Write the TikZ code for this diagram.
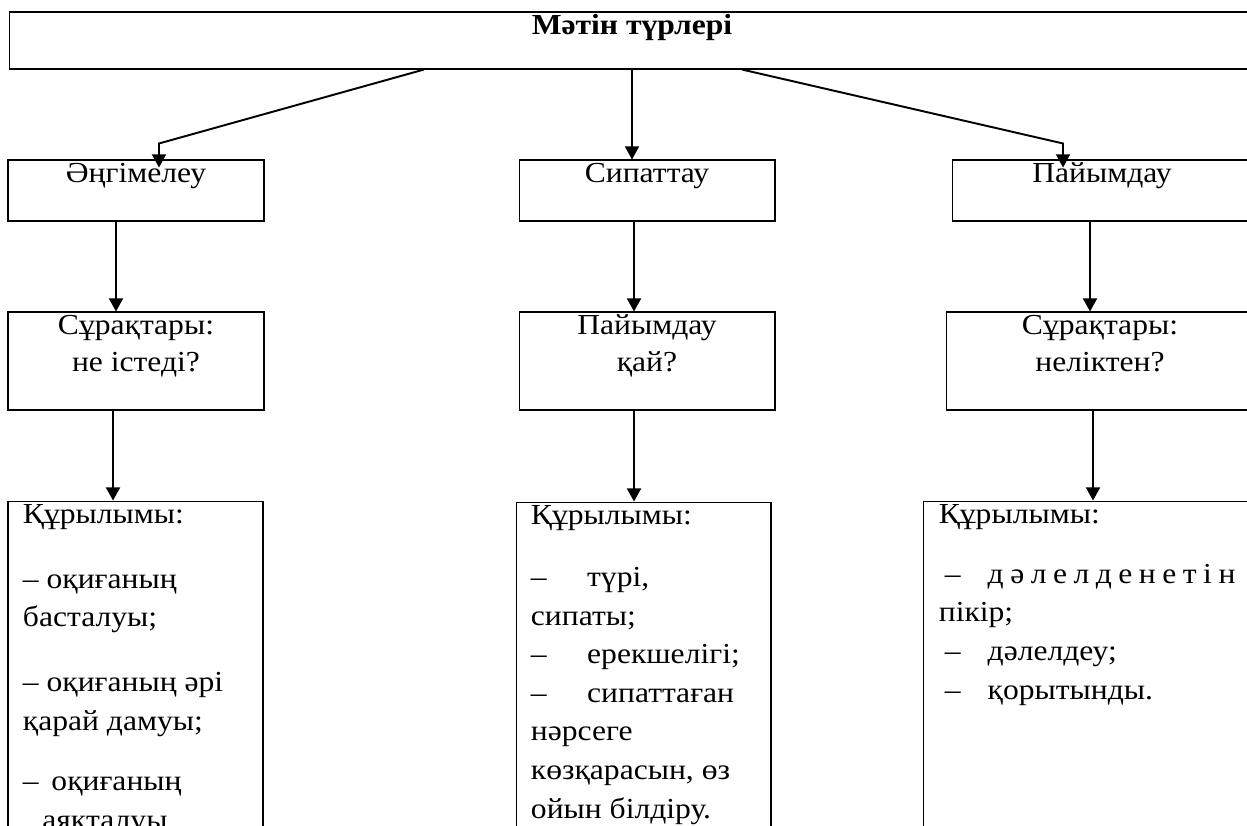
\documentclass[tikz,border=0pt]{standalone}
\usepackage{fontspec}
\setmainfont{Liberation Serif}[FakeStretch=1.09]
\usetikzlibrary{positioning,arrows.meta}
\newcommand{\topline}{\rule{0pt}{12.8pt}}
\newcommand{\dashgap}[1]{\makebox[#1][l]{–}}

\begin{document}
\begin{tikzpicture}[x=0.02cm, y=-0.02cm, line width=0.6pt,
    every node/.style={font=\fontsize{16.5}{21.3}\selectfont},
    box/.style={draw, rectangle, inner sep=0pt, minimum width=5.12cm, minimum height=1.22cm},
    lbl/.style={inner sep=0pt, align=center},
    txt/.style={inner sep=0pt, align=left, font=\fontsize{16.5}{22}\selectfont},
    conn/.style={line width=1.1pt, -{Triangle[length=7.5pt,width=8pt]}}]
  \useasboundingbox (0,0) rectangle (1247,825);
  \clip (0,0) rectangle (1247,825);

  \node[box, minimum width=24.92cm, minimum height=1.14cm] (title) at (632,40.5) {};
  \node[lbl, below=0pt of title.north, font=\fontsize{16.5}{21.3}\selectfont\bfseries] (titletext) {\topline Мәтін түрлері};

  \node[box] (a2) at (136,190.5) {};
  \node[box] (b2) at (647,190.5) {};
  \node[box, minimum width=6cm] (c2) at (1102,190.5) {};
  \node[lbl, below=0pt of a2.north] (a2t) {\topline Әңгімелеу};
  \node[lbl, below=0pt of b2.north] (b2t) {\topline Сипаттау};
  \node[lbl, below=0pt of c2.north] (c2t) {\topline Пайымдау};

  \node[box, minimum height=1.96cm] (a3) at (136,361) {};
  \node[box, minimum height=1.96cm] (b3) at (647,361) {};
  \node[box, minimum height=1.96cm, minimum width=6.16cm] (c3) at (1100,361) {};
  \node[lbl, below=0pt of a3.north] (a3t) {\topline Сұрақтары:\\ не істеді?};
  \node[lbl, below=0pt of b3.north] (b3t) {\topline Пайымдау\\ қай?};
  \node[lbl, below=0pt of c3.north] (c3t) {\topline Сұрақтары:\\ неліктен?};

  \node[box, minimum height=7.2cm, minimum width=5.1cm] (a4) at (135.5,681) {};
  \node[box, minimum height=7.2cm, minimum width=5.1cm] (b4) at (643.5,682) {};
  \node[box, minimum height=7.2cm, minimum width=6.74cm] (c4) at (1091.5,681) {};
  \node[txt, below right=0pt and 8.5pt of a4.north west] (a4t) {\topline Құрылымы:\\[14.8pt]
    – оқиғаның\\
    басталуы;\\[14.8pt]
    – оқиғаның әрі\\
    қарай дамуы;\\[12.6pt]
    –\, оқиғаның\\
    \hspace*{11pt}аяқталуы.};
  \node[txt, below right=0pt and 8.5pt of b4.north west] (b4t) {\topline Құрылымы:\\[13.2pt]
    \dashgap{32pt}түрі,\\
    сипаты;\\
    \dashgap{32pt}ерекшелігі;\\
    \dashgap{32pt}сипаттаған\\
    нәрсеге\\
    көзқарасын, өз\\
    ойын білдіру.};
  \node[txt, below right=0pt and 9pt of c4.north west] (c4t) {\topline Құрылымы:\\[12pt]
    \hspace*{3.4pt}\dashgap{24.4pt}{\spaceskip=3.7pt д ә л е л д е н е т і н}\\
    пікір;\\
    \hspace*{3.4pt}\dashgap{24.4pt}дәлелдеу;\\
    \hspace*{3.4pt}\dashgap{24.4pt}қорытынды.};

  \draw[conn] ([xshift=-4.16cm]title.south) -- ([xshift=0.46cm,yshift=0.32cm]a2.north)
    -- ([xshift=0.46cm,yshift=-0.16cm]a2.north);
  \draw[conn] (title.south) -- (title.south |- b2.north);
  \draw[conn] ([xshift=2.2cm]title.south) -- ([xshift=-0.78cm,yshift=0.32cm]c2.north)
    -- ([xshift=-0.78cm,yshift=-0.16cm]c2.north);

  \draw[conn] ([xshift=-0.4cm]a2.south) -- ([xshift=-0.4cm]a2.south |- a3.north);
  \draw[conn] ([xshift=-0.26cm]b2.south) -- ([xshift=-0.26cm]b2.south |- b3.north);
  \draw[conn] ([xshift=-0.24cm]c2.south) -- ([xshift=-0.24cm]c2.south |- c3.north);

  \draw[conn] ([xshift=-0.46cm]a3.south) -- ([xshift=-0.46cm]a3.south |- a4.north);
  \draw[conn] ([xshift=-0.26cm]b3.south) -- ([xshift=-0.26cm]b3.south |- b4.north);
  \draw[conn] ([xshift=-0.14cm]c3.south) -- ([xshift=-0.14cm]c3.south |- c4.north);
\end{tikzpicture}
\end{document}
